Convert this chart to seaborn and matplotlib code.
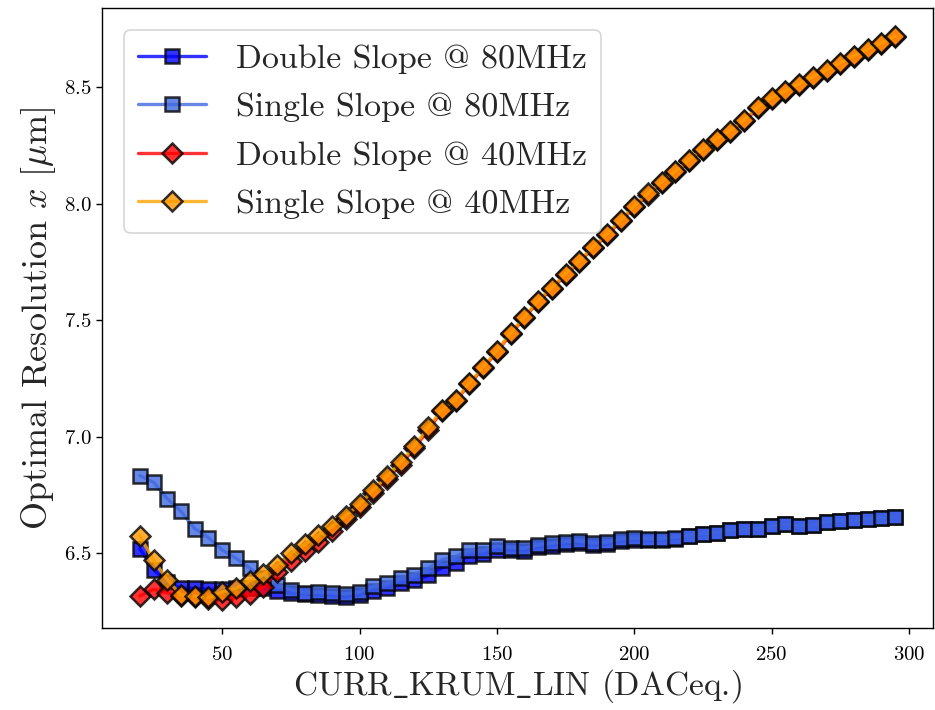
import matplotlib
matplotlib.use("Agg")
import matplotlib.pyplot as plt
import seaborn as sns
import pandas as pd

x_vals = [20, 25, 30, 35, 40, 45, 50, 55, 60, 65, 70, 75, 80, 85, 90, 95, 100,
          105, 110, 115, 120, 125, 130, 135, 140, 145, 150, 155, 160, 165, 170,
          175, 180, 185, 190, 195, 200, 205, 210, 215, 220, 225, 230, 235, 240,
          245, 250, 255, 260, 265, 270, 275, 280, 285, 290, 295]

double_80 = [6.52, 6.43, 6.375, 6.35, 6.35, 6.345, 6.345, 6.35, 6.35, 6.35, 6.34,
             6.33, 6.325, 6.32, 6.318, 6.312, 6.322, 6.34, 6.35, 6.372, 6.383,
             6.405, 6.437, 6.458, 6.49, 6.495, 6.515, 6.512, 6.51, 6.525, 6.533,
             6.54, 6.542, 6.535, 6.539, 6.554, 6.557, 6.555, 6.556, 6.563, 6.573,
             6.583, 6.589, 6.599, 6.603, 6.606, 6.616, 6.626, 6.618, 6.62, 6.635,
             6.64, 6.642, 6.649, 6.653, 6.656]

single_80 = [6.833, 6.805, 6.734, 6.68, 6.606, 6.567, 6.514, 6.479, 6.436, 6.394,
             6.365, 6.344, 6.33, 6.333, 6.33, 6.326, 6.334, 6.358, 6.372, 6.394,
             6.408, 6.436, 6.472, 6.486, 6.514, 6.514, 6.53, 6.524, 6.521, 6.535,
             6.543, 6.55, 6.552, 6.543, 6.547, 6.561, 6.564, 6.561, 6.561, 6.567,
             6.575, 6.584, 6.589, 6.599, 6.603, 6.606, 6.616, 6.626, 6.618, 6.62,
             6.635, 6.64, 6.642, 6.649, 6.653, 6.656]

double_40 = [6.316, 6.345, 6.33, 6.316, 6.31, 6.305, 6.30, 6.31, 6.325, 6.355,
             6.42, 6.465, 6.51, 6.55, 6.595, 6.645, 6.70, 6.76, 6.82, 6.88, 6.95,
             7.03, 7.11, 7.155, 7.225, 7.295, 7.365, 7.44, 7.51, 7.58, 7.635,
             7.695, 7.75, 7.81, 7.865, 7.925, 7.985, 8.04, 8.09, 8.135, 8.185,
             8.23, 8.275, 8.31, 8.355, 8.41, 8.45, 8.48, 8.51, 8.54, 8.57, 8.60,
             8.63, 8.66, 8.685, 8.715]

single_40 = [6.575, 6.47, 6.387, 6.32, 6.316, 6.31, 6.334, 6.35, 6.38, 6.41,
             6.45, 6.50, 6.538, 6.578, 6.615, 6.66, 6.71, 6.77, 6.83, 6.89, 6.96,
             7.04, 7.115, 7.16, 7.23, 7.30, 7.37, 7.445, 7.515, 7.585, 7.64,
             7.70, 7.755, 7.815, 7.87, 7.93, 7.99, 8.045, 8.095, 8.14, 8.19,
             8.235, 8.28, 8.315, 8.36, 8.415, 8.455, 8.485, 8.515, 8.545, 8.575,
             8.605, 8.635, 8.665, 8.69, 8.72]

series_labels = ["Double Slope @ 80MHz", "Single Slope @ 80MHz",
                 "Double Slope @ 40MHz", "Single Slope @ 40MHz"]

sns.set_style("ticks")
plt.rcParams["font.family"] = "serif"
plt.rcParams["font.serif"] = ["cmr10", "DejaVu Serif"]
plt.rcParams["mathtext.fontset"] = "cm"
plt.rcParams["axes.formatter.use_mathtext"] = True
plt.rcParams["axes.unicode_minus"] = False

fig = plt.figure(figsize=(9.35, 7.1), dpi=100)
ax = fig.add_axes([102 / 935, 1 - 628 / 710, (933 - 102) / 935, (628 - 8) / 710])

styles = [
    (double_80, "blue", "s", "blue"),
    (single_80, "royalblue", "s", "royalblue"),
    (double_40, "red", "D", "red"),
    (single_40, "orange", "D", "#ff9a00"),
]
for (vals, col, mk, face), lab in zip(styles, series_labels):
    df = pd.DataFrame({"x": x_vals, "y": vals})
    sns.lineplot(data=df, x="x", y="y", ax=ax, color=col, marker=mk,
                 markersize=10.5 if mk == "s" else 10, markeredgecolor="black",
                 markerfacecolor=face,
                 markeredgewidth=1.8, linewidth=2.4, alpha=0.8, label=lab)

for sp in ax.spines.values():
    sp.set_color("black")
    sp.set_linewidth(1.0)
ax.tick_params(axis="both", colors="black", labelsize=15, length=4, width=1)
ax.tick_params(axis="x", pad=9)
ax.set_xticks([50, 100, 150, 200, 250, 300])
ax.set_yticks([6.5, 7.0, 7.5, 8.0, 8.5])
ax.set_xlabel(r"CURR$\_$KRUM$\_$LIN (DACeq.)", fontsize=24, labelpad=2)
ax.set_ylabel(r"Optimal Resolution $x$ [$\mu$m]", fontsize=26)

leg = ax.legend(loc="upper left", fontsize=24.5, frameon=True, handlelength=2.0,
                borderaxespad=0.65, labelspacing=0.55, handletextpad=0.9)
leg.get_frame().set_edgecolor("#cccccc")
leg.get_frame().set_linewidth(1.2)

fig.savefig("out.png", dpi=100)
